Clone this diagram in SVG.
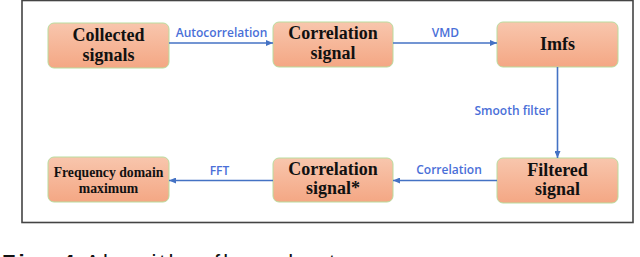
<svg xmlns="http://www.w3.org/2000/svg" width="640" height="257" viewBox="0 0 640 257">
<defs>
<linearGradient id="g" x1="0" y1="0" x2="0" y2="1">
<stop offset="0" stop-color="#F8C6AD"/>
<stop offset="1" stop-color="#F4A784"/>
</linearGradient>
<marker id="ah" markerWidth="7" markerHeight="6" refX="7" refY="3" orient="auto" markerUnits="userSpaceOnUse">
<path d="M0,0 L7,3 L0,6 Z" fill="#4472C4"/>
</marker>
<style>
.box{fill:url(#g);stroke:#B9DC9E;stroke-width:1}
.t{font-family:"Liberation Serif","Times New Roman",serif;font-weight:bold;font-size:18px;fill:#111;text-anchor:middle}
.ts{font-size:13.7px}
.c{stroke:#4472C4;stroke-width:1.6;fill:none;marker-end:url(#ah)}
.l{font-family:"Open Sans","Noto Sans",sans-serif;font-weight:600;font-size:12px;fill:#4A6FD8;text-anchor:middle}
</style>
</defs>
<rect x="0" y="0" width="640" height="257" fill="#fff"/>
<rect x="22" y="0.5" width="611" height="222" fill="none" stroke="#444" stroke-width="1.6"/>
<g id="n1"><rect class="box" x="48" y="23" width="121" height="45" rx="6"/><text class="t" x="108.5" y="40.5">Collected</text><text class="t" x="108.5" y="60.5">signals</text></g>
<g id="n2"><rect class="box" x="273" y="22" width="120" height="45" rx="6"/><text class="t" x="333" y="39">Correlation</text><text class="t" x="333" y="58.5">signal</text></g>
<g id="n3"><rect class="box" x="497" y="22" width="121" height="45" rx="6"/><text class="t" x="557.5" y="50">Imfs</text></g>
<g id="n4"><rect class="box" x="497" y="158" width="121" height="45" rx="6"/><text class="t" x="557.5" y="176">Filtered</text><text class="t" x="557.5" y="195">signal</text></g>
<g id="n5"><rect class="box" x="273" y="158" width="120" height="44" rx="6"/><text class="t" x="333" y="175">Correlation</text><text class="t" x="333" y="193.5">signal*</text></g>
<g id="n6"><rect class="box" x="48" y="157" width="121" height="45" rx="6"/><text class="t ts" x="108.5" y="176.5">Frequency domain</text><text class="t ts" x="108.5" y="193">maximum</text></g>
<g id="connectors">
<line class="c" x1="169" y1="43" x2="273" y2="43"/>
<line class="c" x1="393" y1="43" x2="497" y2="43"/>
<line class="c" x1="557.5" y1="67" x2="557.5" y2="158"/>
<line class="c" x1="497" y1="180.5" x2="393" y2="180.5"/>
<line class="c" x1="273" y1="180.5" x2="169" y2="180.5"/>
<text class="l" x="221.5" y="36.5">Autocorrelation</text>
<text class="l" x="445.5" y="36.5">VMD</text>
<text class="l" x="512.5" y="114.5">Smooth filter</text>
<text class="l" x="449" y="173.5">Correlation</text>
<text class="l" x="219.5" y="174.5">FFT</text>
</g>
<text x="2" y="270" font-family="Liberation Sans,Arial,sans-serif" font-size="22" fill="#111" textLength="333" lengthAdjust="spacing"><tspan font-weight="bold">Fig. 4</tspan> Algorithm flow chart</text>
</svg>
